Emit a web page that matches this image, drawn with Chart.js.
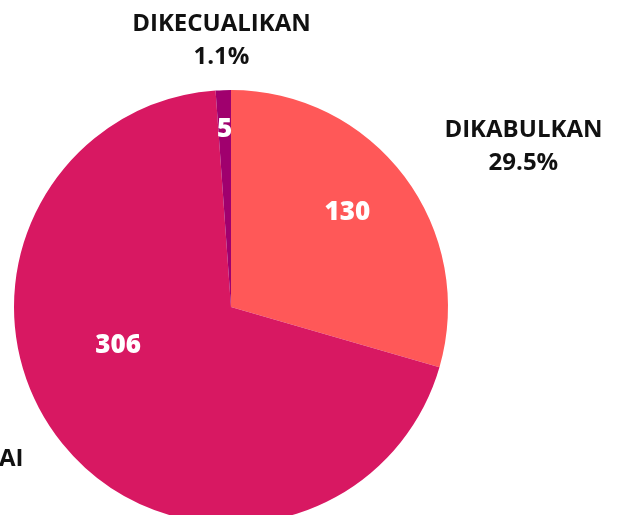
<!DOCTYPE html>
<html><head><meta charset="utf-8">
<script src="https://cdn.jsdelivr.net/npm/chart.js@4/dist/chart.umd.min.js"></script>
<style>
html,body{margin:0;padding:0;background:#fff;overflow:hidden;width:619px;height:515px}
canvas{display:block}
</style></head>
<body>
<canvas id="c" width="619" height="540"></canvas>
<script>
const categories = ["DIKABULKAN", "TIDAK DIKUASAI", "DIKECUALIKAN"];
const values = [130, 306, 5];
const colors = ["#FF5858", "#D81862", "#A0006E"];
// style: radial fraction and angle tweak for inner value labels
const innerRadiusFrac = [0.69, 0.55, 0.82];
const innerAngleShift = [-2, 20, 0];

const total = values.reduce((a, b) => a + b, 0);

const labelPlugin = {
  id: 'labels',
  afterDatasetsDraw(chart) {
    const ctx = chart.ctx;
    const meta = chart.getDatasetMeta(0);
    meta.data.forEach((arc, i) => {
      const p = arc.getProps(['x', 'y', 'startAngle', 'endAngle', 'outerRadius'], true);
      const mid = (p.startAngle + p.endAngle) / 2;
      const a2 = mid + innerAngleShift[i] * Math.PI / 180;
      const r2 = p.outerRadius * innerRadiusFrac[i];
      ctx.save();
      ctx.fillStyle = '#fff';
      ctx.font = '800 26px "Open Sans"';
      ctx.textAlign = 'center';
      ctx.textBaseline = 'middle';
      ctx.fillText(String(values[i]), p.x + Math.cos(a2) * r2, p.y + Math.sin(a2) * r2);
      const d = p.outerRadius + 50;
      const ax = p.x + Math.cos(mid) * d;
      const ay = p.y + Math.sin(mid) * d;
      const cs = Math.cos(mid);
      ctx.font = 'bold 24px "Open Sans"';
      const l1 = categories[i];
      const l2 = (values[i] / total * 100).toFixed(1) + '%';
      const w = Math.max(ctx.measureText(l1).width, ctx.measureText(l2).width);
      let cx;
      if (cs > 0.5) cx = ax + w / 2;
      else if (cs < -0.5) cx = ax - w / 2;
      else cx = ax;
      ctx.fillStyle = '#111';
      ctx.textAlign = 'center';
      ctx.textBaseline = 'middle';
      ctx.fillText(l1, cx, ay - 16);
      ctx.fillText(l2, cx, ay + 17);
      ctx.restore();
    });
  }
};

new Chart(document.getElementById('c'), {
  type: 'pie',
  data: {
    labels: categories,
    datasets: [{ data: values, backgroundColor: colors, borderWidth: 0 }]
  },
  options: {
    responsive: false,
    animation: false,
    layout: { padding: { left: 14, top: 90, right: 171, bottom: 16 } },
    plugins: { legend: { display: false }, tooltip: { enabled: false } }
  },
  plugins: [labelPlugin]
});
</script>
</body></html>
